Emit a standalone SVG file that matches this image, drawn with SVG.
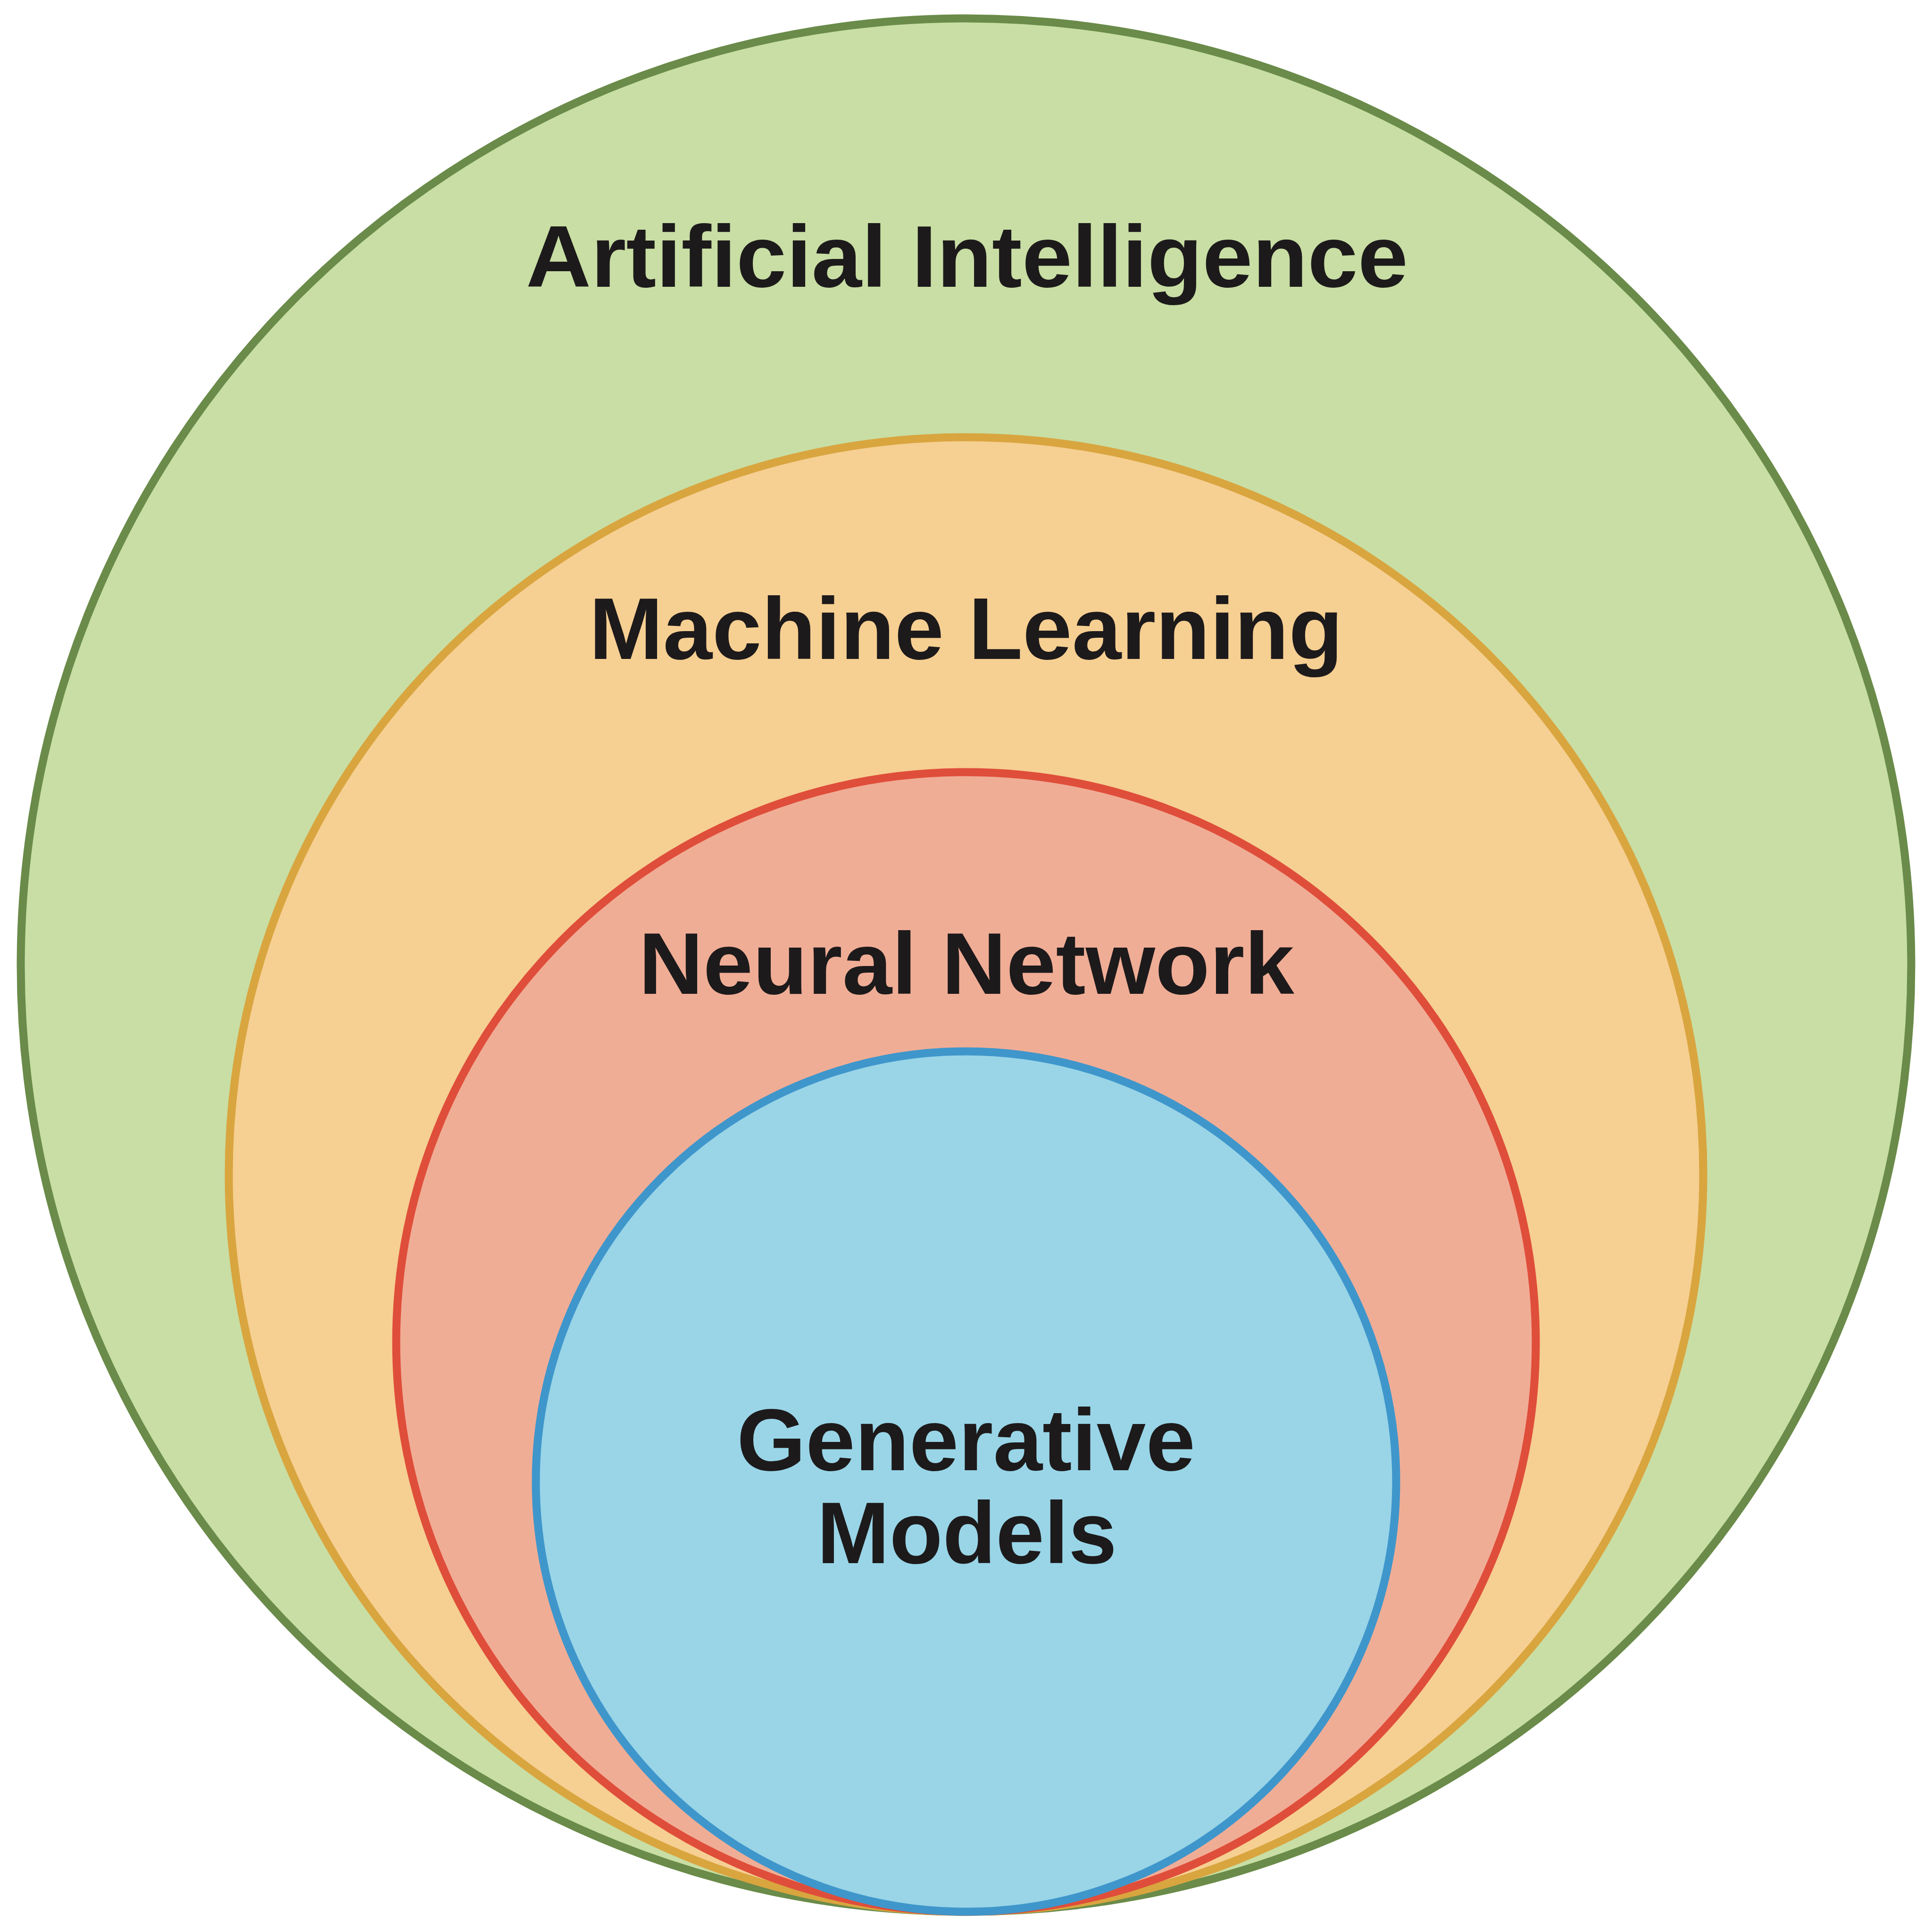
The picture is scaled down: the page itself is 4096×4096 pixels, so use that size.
<svg xmlns="http://www.w3.org/2000/svg" width="4096" height="4096" viewBox="0 0 4096 4096">
<style>
.lbl{font-family:"Liberation Sans","Open Sans",Arial,sans-serif;font-weight:700;font-size:186px;fill:#1d1a1b;text-anchor:middle}
.ring{stroke-width:17}
</style>
<rect width="4096" height="4096" fill="#ffffff"/>
<g id="ai">
<ellipse class="ring" cx="2048" cy="2046" rx="2004" ry="2007" fill="#c8dea4" stroke="#6a8b49"/>
<text class="lbl" x="2050" y="608" textLength="1870" lengthAdjust="spacingAndGlyphs">Artificial Intelligence</text>
</g>
<g id="ml">
<ellipse class="ring" cx="2048" cy="2490" rx="1563" ry="1563" fill="#f6cf92" stroke="#d9a53f"/>
<text class="lbl" x="2048" y="1397" textLength="1598" lengthAdjust="spacingAndGlyphs">Machine Learning</text>
</g>
<g id="nn">
<ellipse class="ring" cx="2048" cy="2845" rx="1208" ry="1208" fill="#f0ad96" stroke="#df4e3a"/>
<text class="lbl" x="2049" y="2107" textLength="1390" lengthAdjust="spacingAndGlyphs">Neural Network</text>
</g>
<g id="gm">
<ellipse class="ring" cx="2048" cy="3141" rx="912" ry="912" fill="#99d5e7" stroke="#3f96cb"/>
<text class="lbl" x="2048" y="3117" textLength="972" lengthAdjust="spacingAndGlyphs">Generative</text>
<text class="lbl" x="2050" y="3314" textLength="636" lengthAdjust="spacingAndGlyphs">Models</text>
</g>
<g id="connectors"/>
</svg>
